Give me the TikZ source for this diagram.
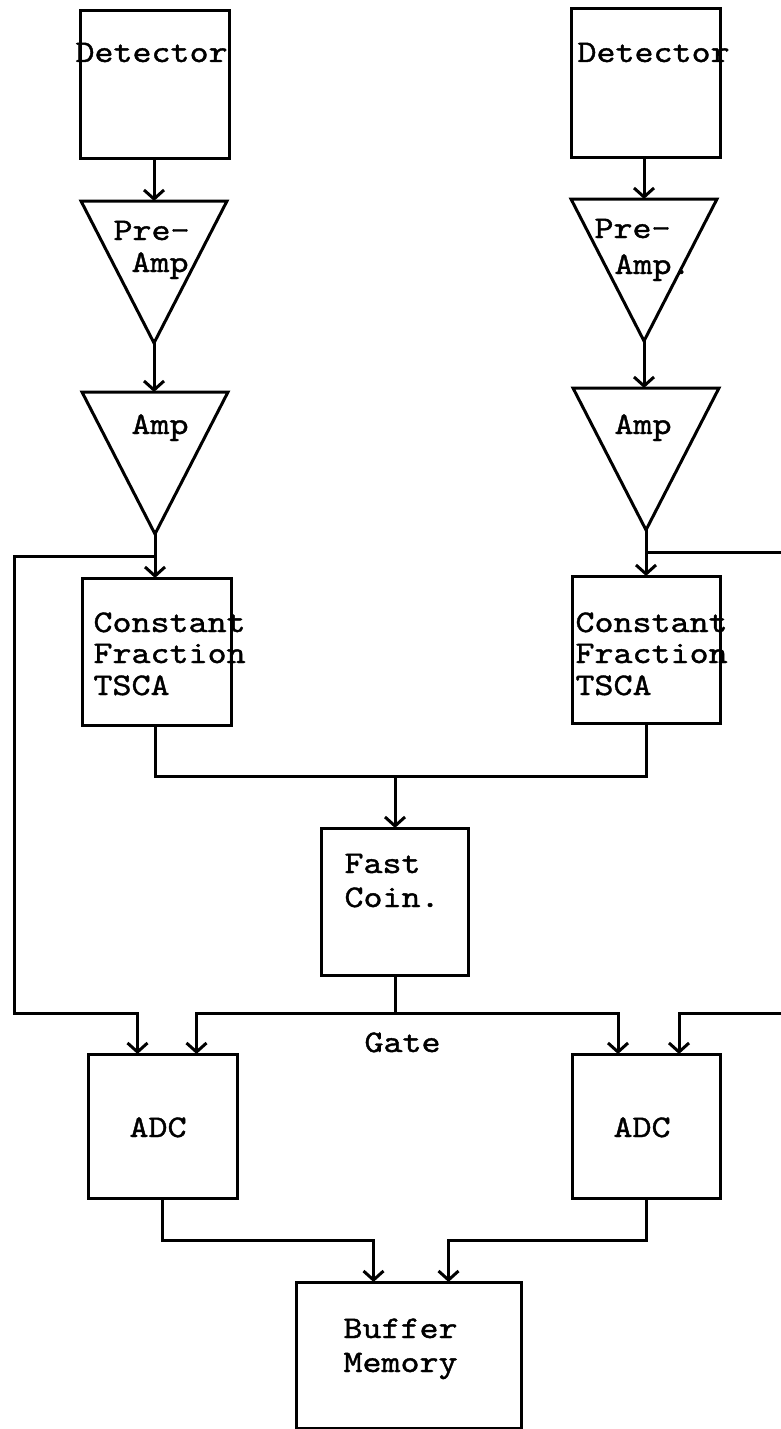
\documentclass[tikz,border=0pt]{standalone}
\usepackage{fontspec}
\setmonofont{lmmono10-regular.otf}[FakeStretch=1.15,FakeBold=1.2]
\usetikzlibrary{arrows.meta,shapes.geometric,calc}

\begin{document}
\begin{tikzpicture}[x=1pt,y=-1pt,line width=3pt,line join=miter,
  blk/.style={draw,rectangle,inner sep=0pt,outer sep=0pt},
  amp/.style={draw,isosceles triangle,isosceles triangle stretches,
    shape border rotate=270,inner sep=0pt,outer sep=0pt,
    minimum width=146pt,minimum height=142pt},
  lbl/.style={inner sep=0pt,anchor=base west,
    font=\ttfamily\fontsize{31.5}{33}\selectfont},
  arr/.style={-{Straight Barb[length=9pt,width=20pt]}}]

\useasboundingbox (0,0) rectangle (781,1429);

% left chain
\node[blk,minimum width=149pt,minimum height=147pt] (detL) at (155,84.5) {};
\node[amp,anchor=lower side] (preL) at (154,201) {};
\node[amp,anchor=lower side] (ampL) at (155,392) {};
\node[blk,minimum width=149pt,minimum height=147pt] (cfL) at (157,651.5) {};

% right chain
\node[blk,minimum width=149pt,minimum height=148pt] (detR) at (645.5,83) {};
\node[amp,anchor=lower side] (preR) at (644,199) {};
\node[amp,anchor=lower side] (ampR) at (646,388) {};
\node[blk,minimum width=148pt,minimum height=147pt] (cfR) at (646,649.5) {};

% coincidence, converters, memory
\node[blk,minimum width=147pt,minimum height=147pt] (fc) at (395,901.5) {};
\node[blk,minimum width=149pt,minimum height=144pt] (adcL) at (162.5,1126) {};
\node[blk,minimum width=148pt,minimum height=144pt] (adcR) at (646,1126) {};
\node[blk,minimum width=225pt,minimum height=146pt] (buf) at (408.5,1355) {};

% labels
\node[lbl] (tDetL) at (74,62) {Detector};
\node[lbl] (tDetR) at (576,62) {Detector};
\node[lbl] (tPreL1) at (112,240) {Pre-};
\node[lbl] (tPreL2) at (130,272) {Amp};
\node[lbl] (tPreR1) at (593,238) {Pre-};
\node[lbl] (tPreR2) at (613,274) {Amp.};
\node[lbl] (tAmpL) at (130,434) {Amp};
\node[lbl] (tAmpR) at (613,434) {Amp};
\node[lbl] (tCfL1) at (92,632) {Constant};
\node[lbl] (tCfL2) at (92,663) {Fraction};
\node[lbl] (tCfL3) at (92,695) {TSCA};
\node[lbl] (tCfR1) at (574,632) {Constant};
\node[lbl] (tCfR2) at (574,663) {Fraction};
\node[lbl] (tCfR3) at (574,695) {TSCA};
\node[lbl] (tFc1) at (343,873) {Fast};
\node[lbl] (tFc2) at (343,907) {Coin.};
\node[lbl] (tGate) at (363,1052) {Gate};
\node[lbl] (tAdcL) at (128,1137) {ADC};
\node[lbl] (tAdcR) at (612,1137) {ADC};
\node[lbl] (tBuf1) at (342,1338) {Buffer};
\node[lbl] (tBuf2) at (342,1372) {Memory};

% signal chains
\draw[arr] (preL.lower side |- detL.south) -- (preL.lower side);
\draw[arr] (preL.apex) -- (preL.apex |- ampL.lower side);
\draw[arr] (ampL.apex) -- (ampL.apex |- cfL.north);
\draw[arr] (preR.lower side |- detR.south) -- (preR.lower side);
\draw[arr] (preR.apex) -- (preR.apex |- ampR.lower side);
\draw[arr] (ampR.apex) -- (ampR.apex |- cfR.north);

% linear branches to the converters
\coordinate (brL) at ($(ampL.apex)+(0,22)$);
\coordinate (brR) at ($(ampR.apex)+(0,22)$);
\draw[arr] (brL) -- ++(-141,0) |- ($(adcL.north)+(-25,-41)$) -- ($(adcL.north)+(-25,0)$);
\draw[arr] (brR) -- ++(150,0) |- ($(adcR.north)+(33,-41)$) -- ($(adcR.north)+(33,0)$);

% timing branches to the coincidence unit
\coordinate (jn) at (395,776);
\draw (ampL.apex |- cfL.south) |- (jn);
\draw (ampR.apex |- cfR.south) |- (jn);
\draw[arr] (jn) -- (fc.north);

% gate
\coordinate (gt) at (395,1013);
\draw (fc.south) -- (gt);
\draw[arr] (gt) -| ($(adcL.north)+(34,0)$);
\draw[arr] (gt) -| ($(adcR.north)+(-28,0)$);

% converters to memory
\draw[arr] (adcL.south) |- ($(buf.north)+(-35,-42)$) -- ($(buf.north)+(-35,0)$);
\draw[arr] (adcR.south) |- ($(buf.north)+(40,-42)$) -- ($(buf.north)+(40,0)$);
\end{tikzpicture}
\end{document}
